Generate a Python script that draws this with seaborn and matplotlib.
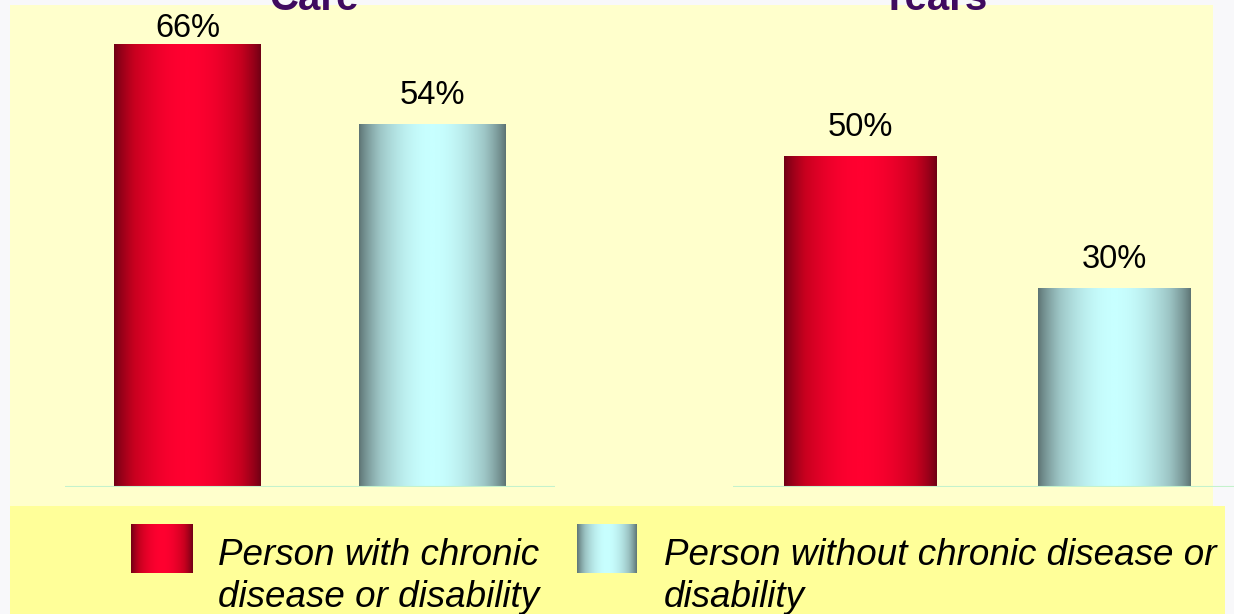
import numpy as np
import pandas as pd
import matplotlib
matplotlib.use("Agg")
import matplotlib.pyplot as plt
import seaborn as sns
from matplotlib.colors import LinearSegmentedColormap
from matplotlib.patches import Rectangle

# ---------------- data ----------------
panel_titles = ["Care", "Years"]
groups = ["Person with chronic disease or disability",
          "Person without chronic disease or disability"]
legend_labels = ["Person with chronic\ndisease or disability",
                 "Person without chronic disease or\ndisability"]
care_values = [66, 54]
years_values = [50, 30]

# ---------------- style ----------------
sns.set_theme(style="white")
plt.rcParams["font.family"] = ["Liberation Sans", "DejaVu Sans"]

W, H = 1234, 614
fig = plt.figure(figsize=(W / 100, H / 100), dpi=100, facecolor="#F8F8FA")


def fx(px):
    return px / W


def fy(py):
    return 1 - py / H


panel_bg = "#FFFFCC"
legend_bg = "#FFFF99"
title_color = "#3F0A5F"
red_dark, red_light = "#6E0014", "#FF0030"
teal_dark, teal_light = "#5C7272", "#C8FFFF"
cmaps = [LinearSegmentedColormap.from_list("red_grad", [red_dark, "#C8001F", red_light]),
         LinearSegmentedColormap.from_list("teal_grad", [teal_dark, "#9CC4C4", teal_light])]
t = np.linspace(0, 1, 256)
grad = (np.sin(np.pi * t) ** 0.8)[None, :]

# backgrounds
fig.add_artist(Rectangle((fx(10), fy(506)), fx(1213) - fx(10), fy(5) - fy(506),
                         transform=fig.transFigure, facecolor=panel_bg,
                         edgecolor="none", zorder=-2))
fig.add_artist(Rectangle((fx(10), 0), fx(1225) - fx(10), fy(506),
                         transform=fig.transFigure, facecolor=legend_bg,
                         edgecolor="none", zorder=-2))

panels = [
    (care_values, [fx(65), fy(487), fx(555) - fx(65), fy(5) - fy(487)], 71.9, fx(314)),
    (years_values, [fx(733), fy(487), 508 / W, fy(5) - fy(487)], 72.9, fx(934)),
]

for (vals, rect, top, tx), title in zip(panels, panel_titles):
    ax = fig.add_axes(rect)
    ax.patch.set_alpha(0)
    df = pd.DataFrame({"group": groups, "value": vals})
    sns.barplot(data=df, x="group", y="value", hue="group",
                palette=[red_light, teal_light], width=0.6, saturation=1,
                ax=ax, legend=False)
    ax.set_xlim(-0.5, 1.5)
    ax.set_ylim(0, top)
    ppu = 482 / top
    for patch, cmap, v in zip(list(ax.patches), cmaps, vals):
        x0, w, h = patch.get_x(), patch.get_width(), patch.get_height()
        ax.imshow(grad, cmap=cmap, vmin=0, vmax=1, extent=[x0, x0 + w, 0, h],
                  aspect="auto", interpolation="bicubic", zorder=2)
        patch.set_visible(False)
        ly = min(h + 29 / ppu, top - 23 / ppu)
        ax.text(x0 + w / 2, ly, f"{v}%", ha="center", va="center",
                fontsize=23.5, color="black", zorder=4)
    ax.set_xlim(-0.5, 1.5)
    ax.set_ylim(0, top)
    ax.axhline(0, color="#C4F2CC", lw=1.5, zorder=3)
    ax.axis("off")
    fig.text(tx, fy(10), title, ha="center", va="baseline", fontsize=29,
             fontweight="bold", color=title_color)

# legend
lax = fig.add_axes([fx(10), 0, fx(1225) - fx(10), fy(506)])
lax.set_xlim(10, 1225)
lax.set_ylim(614, 506)
lax.axis("off")
for (px0, px1, tx0), cmap, lab in zip([(131, 193, 218), (577, 637, 664)], cmaps, legend_labels):
    lax.imshow(grad, cmap=cmap, vmin=0, vmax=1, extent=[px0, px1, 573, 524],
               aspect="auto", interpolation="bicubic")
    lax.text(tx0, 607, lab, ha="left", va="baseline", fontsize=26.5,
             style="italic", color="black", linespacing=1.27)
lax.set_xlim(10, 1225)
lax.set_ylim(614, 506)

fig.savefig("out.png", dpi=100, facecolor=fig.get_facecolor())
